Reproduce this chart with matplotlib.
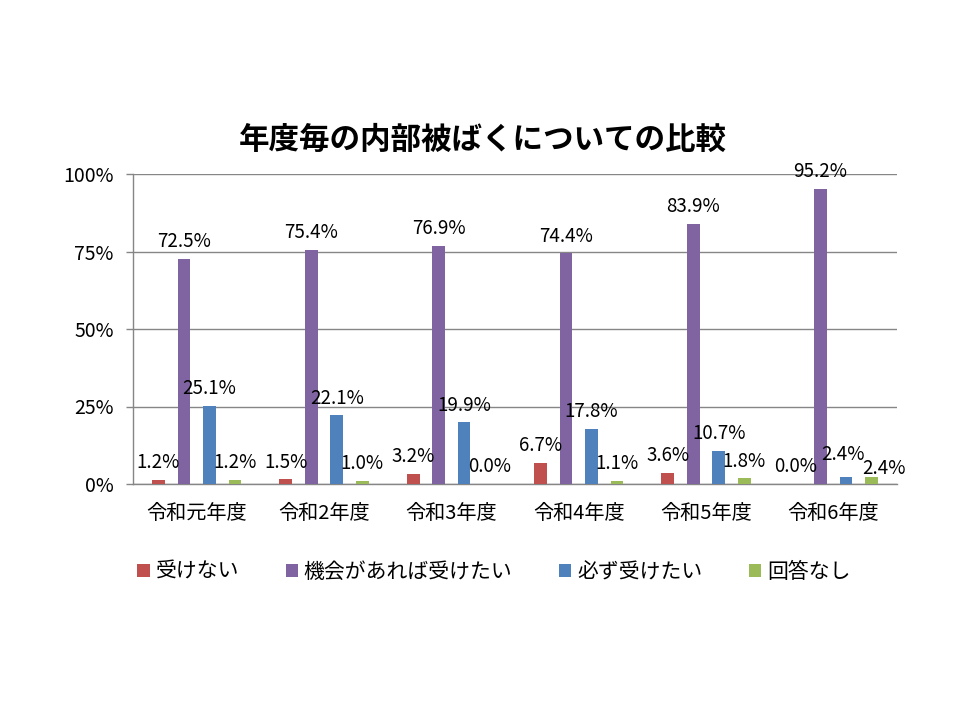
import numpy as np
import matplotlib.pyplot as plt
from matplotlib.patches import Patch
from matplotlib.ticker import PercentFormatter

plt.rcParams['font.family'] = ['Noto Sans CJK JP', 'DejaVu Sans']

# data (percent)
years = ['令和元年度', '令和2年度', '令和3年度', '令和4年度', '令和5年度', '令和6年度']
series = ['受けない', '機会があれば受けたい', '必ず受けたい', '回答なし']
no_thanks = [1.2, 1.5, 3.2, 6.7, 3.6, 0.0]
if_chance = [72.5, 75.4, 76.9, 74.4, 83.9, 95.2]
definitely = [25.1, 22.1, 19.9, 17.8, 10.7, 2.4]
no_answer = [1.2, 1.0, 0.0, 1.1, 1.8, 2.4]
colors = ['#C0504D', '#8064A2', '#4F81BD', '#9BBB59']

values = [no_thanks, if_chance, definitely, no_answer]
x = np.arange(len(years))
w = 0.1
offsets = [-0.3, -0.1, 0.1, 0.3]

fig = plt.figure(figsize=(9.6, 7.2), dpi=100)
ax = fig.add_axes([133 / 960, 1 - 484 / 720, 764 / 960, 310 / 720])

last = len(years) - 1
for si, (vals, off, c) in enumerate(zip(values, offsets, colors)):
    bars = ax.bar(x + off, vals, width=w, color=c, zorder=3)
    for gi, (b, v) in enumerate(zip(bars, vals)):
        dx, dy = 0, 8.5
        # the two 2.4% labels in the last group are pushed apart, as in Excel
        if gi == last and si == 2:
            dx, dy = -2, 12
        if gi == last and si == 3:
            dx, dy = 9, 2
        ax.annotate(f'{v:.1f}%', (b.get_x() + b.get_width() / 2, v),
                    xytext=(dx, dy), textcoords='offset points',
                    ha='center', va='baseline', fontsize=13.5, color='black',
                    zorder=4)

ax.set_xlim(-0.5, len(years) - 0.5)
ax.set_ylim(0, 100)
ax.set_yticks([0, 25, 50, 75, 100])
ax.yaxis.set_major_formatter(PercentFormatter(decimals=0))
ax.set_xticks(x)
ax.set_xticklabels(years)
ax.tick_params(axis='x', length=0, pad=14, labelsize=14.5)
ax.tick_params(axis='y', length=5, width=1, color='#868686', pad=9, labelsize=14)
ax.yaxis.grid(True, color='#868686', linewidth=1, zorder=0)
for s in ['top', 'right']:
    ax.spines[s].set_visible(False)
for s in ['left', 'bottom']:
    ax.spines[s].set_color('#868686')
    ax.spines[s].set_linewidth(1)

fig.text(0.503, 1 - 140 / 720, '年度毎の内部被ばくについての比較',
         ha='center', va='center', fontsize=22, fontweight='bold')

handles = [Patch(facecolor=c, edgecolor='none') for c in colors]
fig.legend(handles, series, loc='center left',
           bbox_to_anchor=(127 / 960, 1 - 572 / 720), ncol=4, frameon=False,
           fontsize=15, handlelength=0.58, handleheight=0.58,
           handletextpad=0.3, columnspacing=2.22, borderpad=0)

fig.savefig('out.png', dpi=100)
